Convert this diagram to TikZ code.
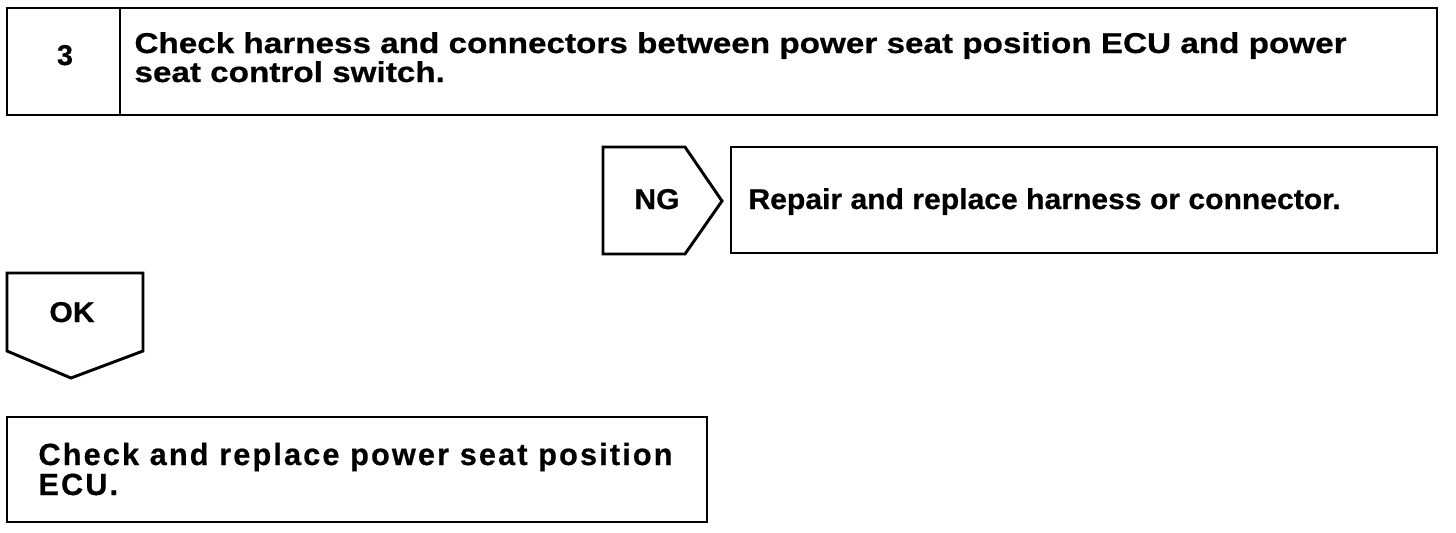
\documentclass[tikz,border=0pt]{standalone}
\usepackage{fontspec}
\setmainfont{Liberation Sans}
\tikzset{every picture/.style={line width=2.2pt}}
\tikzset{steptext/.style={anchor=base west, inner sep=0pt, font=\fontsize{21.5}{22}\selectfont\bfseries}}

\begin{document}
\begin{tikzpicture}[x=0.75pt,y=0.75pt,yscale=-1,xscale=1]
\useasboundingbox (0,0) rectangle (1456,532);

%Shape: Rectangle [id:step3box]
\draw  (7,8) rectangle (1437,115) ;
%Straight Lines [id:stepdivider]
\draw    (120,8) -- (120,115) ;
%Shape: Pentagon [id:ngflag]
\draw  (603,147) -- (685,147) -- (722,201) -- (685,254) -- (603,254) -- cycle ;
%Shape: Rectangle [id:repairbox]
\draw  (731,147) rectangle (1437,253) ;
%Shape: Pentagon [id:okflag]
\draw  (7,273) -- (143,273) -- (143,351) -- (71,378) -- (7,351) -- cycle ;
%Shape: Rectangle [id:ecubox]
\draw  (7,417) rectangle (707,522) ;

% Text Node
\draw (65,65) node [steptext, anchor=base] (stepnum) {\addfontfeatures{FakeBold=0.6}3};
% Text Node
\draw (133,53) node [steptext] (title1) {\addfontfeatures{FakeStretch=1.16,FakeBold=0.6}Check harness and connectors between power seat position ECU and power};
% Text Node
\draw (133,82) node [steptext] (title2) {\addfontfeatures{FakeStretch=1.16,FakeBold=0.6}seat control switch.};
% Text Node
\draw (657,209) node [steptext, anchor=base] (nglabel) {\addfontfeatures{FakeStretch=1.05,FakeBold=0.6}NG};
% Text Node
\draw (747,209) node [steptext] (repair) {\addfontfeatures{FakeStretch=1.05,FakeBold=0.6}Repair and replace harness or connector.};
% Text Node
\draw (72,322) node [steptext, anchor=base] (oklabel) {\addfontfeatures{FakeStretch=1.05,FakeBold=0.6}OK};
% Text Node
\draw (37,465) node [steptext, font=\fontsize{23}{24}\selectfont\bfseries] (ecu1) {\addfontfeatures{LetterSpace=7,FakeBold=0.6}Check and replace power seat position};
% Text Node
\draw (37,495) node [steptext, font=\fontsize{23}{24}\selectfont\bfseries] (ecu2) {\addfontfeatures{LetterSpace=7,FakeBold=0.6}ECU.};

\end{tikzpicture}
\end{document}
